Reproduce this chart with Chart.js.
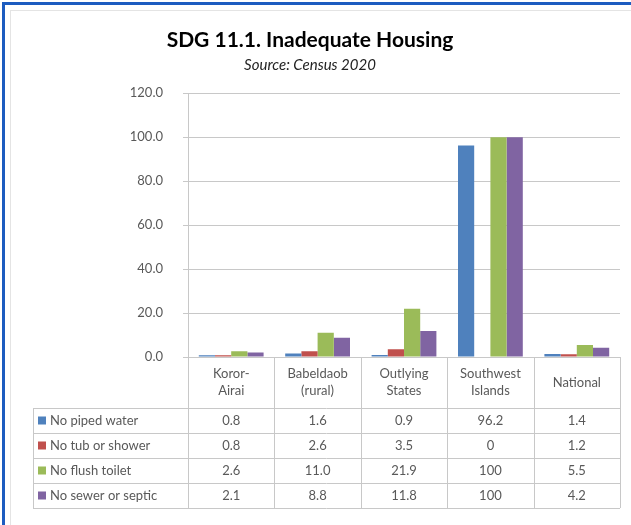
<!DOCTYPE html>
<html>
<head>
<meta charset="utf-8">
<script src="https://cdn.jsdelivr.net/npm/chart.js@4"></script>
<style>
    html, body { margin: 0; padding: 0; background: #fff; }
    #frame { position: absolute; left: 0; top: 0; width: 631px; height: 525px; }
    #edge { position: absolute; left: 2px; top: 2px; width: 629px; height: 523px;
            border-left: 3px solid #1d5cc0; border-top: 3px solid #1d5cc0; box-sizing: border-box; }
    #inner { position: absolute; left: 10px; top: 10px; width: 621px; height: 515px;
             border-left: 1px solid #e4e4e4; border-top: 1px solid #e4e4e4; box-sizing: border-box; }
    canvas { position: absolute; left: 0; top: 0; }
</style>
</head>
<body>
<div id="frame">
    <canvas id="housingChart" width="631" height="525"></canvas>
    <div id="edge"></div>
    <div id="inner"></div>
</div>
<script>
// Dados do gráfico
const categorias = [['Koror-', 'Airai'], ['Babeldaob', '(rural)'], ['Outlying', 'States'], ['Southwest', 'Islands'], ['National']];
const semAguaEncanada = [0.8, 1.6, 0.9, 96.2, 1.4];
const semBanheira = [0.8, 2.6, 3.5, 0, 1.2];
const semVasoSanitario = [2.6, 11.0, 21.9, 100, 5.5];
const semEsgoto = [2.1, 8.8, 11.8, 100, 4.2];
const nomesSeries = ['No piped water', 'No tub or shower', 'No flush toilet', 'No sewer or septic'];
const coresSeries = ['#4f81bd', '#c0504d', '#9bbb59', '#8064a2'];
const ticksY = [0, 20, 40, 60, 80, 100, 120];

const FONTE = 'Lato, "Open Sans", sans-serif';
const CINZA = '#595959';
const LINHA = '#c8c8c8';

// Formato da tabela: 0 e 100 sem casa decimal, resto com uma casa
const formata = v => (v === 0 || v === 100) ? String(v) : v.toFixed(1);

// Plugin que desenha a tabela de dados embaixo do gráfico
const tabelaPlugin = {
    id: 'tabelaDados',
    afterDraw(chart) {
        const { ctx, chartArea } = chart;
        const x = chart.scales.x;
        const esquerda = 33;
        const topo = chartArea.bottom;
        const alturaCab = 51;
        const alturaLinha = 25;
        const passo = (chartArea.right - chartArea.left) / categorias.length;
        const fundo = topo + alturaCab + alturaLinha * nomesSeries.length;

        ctx.save();
        ctx.strokeStyle = LINHA;
        ctx.lineWidth = 1;
        ctx.beginPath();
        // linhas verticais das colunas
        for (let i = 0; i <= categorias.length; i++) {
            const px = Math.round(chartArea.left + passo * i) + 0.5;
            ctx.moveTo(px, topo);
            ctx.lineTo(px, fundo);
        }
        ctx.moveTo(esquerda + 0.5, topo + alturaCab);
        ctx.lineTo(esquerda + 0.5, fundo);
        // linhas horizontais
        for (let r = 0; r <= nomesSeries.length; r++) {
            const py = Math.round(topo + alturaCab + alturaLinha * r) + 0.5;
            ctx.moveTo(esquerda, py);
            ctx.lineTo(chartArea.right, py);
        }
        ctx.stroke();

        ctx.fillStyle = CINZA;
        ctx.font = '13px ' + FONTE;
        ctx.textAlign = 'center';
        ctx.textBaseline = 'middle';
        // cabeçalho com as categorias
        categorias.forEach((linhas, i) => {
            const cx = x.getPixelForValue(i);
            const meio = topo + alturaCab / 2;
            linhas.forEach((t, k) => {
                ctx.fillText(t, cx, meio + (k - (linhas.length - 1) / 2) * 17);
            });
        });

        // linhas de valores
        const series = [semAguaEncanada, semBanheira, semVasoSanitario, semEsgoto];
        series.forEach((valores, r) => {
            const cy = topo + alturaCab + alturaLinha * r + alturaLinha / 2;
            ctx.fillStyle = coresSeries[r];
            ctx.fillRect(esquerda + 5, cy - 4, 8, 8);
            ctx.fillStyle = CINZA;
            ctx.textAlign = 'left';
            ctx.fillText(nomesSeries[r], esquerda + 17, cy);
            ctx.textAlign = 'center';
            valores.forEach((v, i) => ctx.fillText(formata(v), x.getPixelForValue(i), cy));
        });
        ctx.restore();
    }
};

const ctx = document.getElementById('housingChart').getContext('2d');
new Chart(ctx, {
    type: 'bar',
    data: {
        labels: categorias.map(c => c.join(' ')),
        datasets: [semAguaEncanada, semBanheira, semVasoSanitario, semEsgoto].map((d, i) => ({
            label: nomesSeries[i],
            data: d,
            backgroundColor: coresSeries[i],
            categoryPercentage: 0.75,
            barPercentage: 1.0
        }))
    },
    options: {
        responsive: false,
        animation: false,
        layout: { padding: { left: 0, right: 11, top: 0, bottom: 168 } },
        plugins: {
            legend: { display: false },
            tooltip: { enabled: false },
            title: {
                display: true,
                text: 'SDG 11.1. Inadequate Housing',
                color: '#000',
                font: { family: FONTE, size: 21, weight: 'bold' },
                padding: { top: 28, bottom: 3 }
            },
            subtitle: {
                display: true,
                text: 'Source: Census 2020',
                color: '#222',
                font: { family: FONTE, size: 15, style: 'italic' },
                padding: { top: 0, bottom: 19 }
            }
        },
        scales: {
            x: {
                display: false
            },
            y: {
                min: 0,
                max: 120,
                afterFit: s => { s.width = 188; },
                afterBuildTicks: s => { s.ticks = ticksY.map(v => ({ value: v })); },
                border: { color: LINHA },
                grid: { color: LINHA, tickLength: 5 },
                ticks: {
                    color: CINZA,
                    padding: 20,
                    font: { family: FONTE, size: 13 },
                    callback: v => v.toFixed(1)
                }
            }
        }
    },
    plugins: [tabelaPlugin]
});
</script>
</body>
</html>
